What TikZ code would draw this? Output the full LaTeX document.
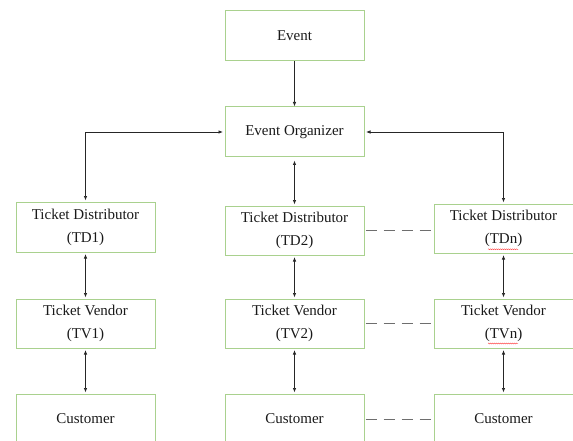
\documentclass[tikz,border=0pt]{standalone}
\usepackage{fontspec}
\setmainfont{Liberation Serif}
\usetikzlibrary{arrows.meta,decorations.pathmorphing}
\definecolor{boxgreen}{HTML}{A9D18E}
\definecolor{linegray}{HTML}{262626}
\definecolor{dashgray}{HTML}{6E6E6E}
\begin{document}
\begin{tikzpicture}[x=1pt,y=-1pt,
  box/.style={draw=boxgreen,line width=1pt,minimum width=139pt,minimum height=50pt,
    inner sep=0pt,align=center,text=black!90,font=\fontsize{15}{23}\selectfont},
  conn/.style={draw=linegray,line width=0.7pt},
  tip/.tip={Latex[length=4.5pt,width=3.5pt]},
  oneway/.style={conn,-tip},
  twoway/.style={conn,tip-tip,shorten <=1.5pt,shorten >=1pt},
  dashlink/.style={draw=dashgray,line width=0.9pt,dash pattern=on 11pt off 7pt,dash phase=-1pt},
  spell/.style={draw=red!80,line width=0.4pt,decorate,decoration={snake,amplitude=0.5pt,segment length=2pt}}]
\useasboundingbox (0,0) rectangle (573,441);
\clip (0,0) rectangle (573,441);
% boxes
\node[box] (ev) at (294.5,35.7) {Event};
\node[box] (eo) at (294.5,132) {Event Organizer};
\node[box] (td1) at (85.5,227) {Ticket Distributor\\(TD1)};
\node[box,minimum height=49pt] (td2) at (294.5,230.5) {Ticket Distributor\\(TD2)};
\node[box,minimum height=49pt] (tdn) at (503.5,228.5) {Ticket Distributor\\(TDn)};
\node[box,minimum height=49pt] (tv1) at (85.5,323.5) {Ticket Vendor\\(TV1)};
\node[box,minimum height=49pt] (tv2) at (294.5,323.5) {Ticket Vendor\\(TV2)};
\node[box,minimum height=49pt] (tvn) at (503.5,323.5) {Ticket Vendor\\(TVn)};
\node[box] (cu1) at (85.5,419) {Customer};
\node[box] (cu2) at (294.5,419) {Customer};
\node[box] (cun) at (503.5,419) {Customer};
% spell-check marks
\coordinate (sa1) at (488,249.3);
\coordinate (sb1) at (518,249.3);
\coordinate (sa2) at (488,343.5);
\coordinate (sb2) at (518,343.5);
\draw[spell] (sa1) -- (sb1);
\draw[spell] (sa2) -- (sb2);
% connectors
\draw[oneway] (ev) -- (eo);
\draw[twoway] (eo.west) -| (td1.north);
\draw[twoway] (eo.east) -| (tdn.north);
\draw[twoway,shorten <=3pt] (eo.south) -- (td2.north);
\draw[twoway] (td1) -- (tv1);
\draw[twoway] (td2) -- (tv2);
\draw[twoway] (tdn) -- (tvn);
\draw[twoway] (tv1) -- (cu1);
\draw[twoway] (tv2) -- (cu2);
\draw[twoway] (tvn) -- (cun);
% dashed links
\draw[dashlink] (td2.east) -- (tdn.west |- td2.east);
\draw[dashlink] (tv2.east) -- (tvn.west);
\draw[dashlink] (cu2.east) -- (cun.west);
\end{tikzpicture}
\end{document}
